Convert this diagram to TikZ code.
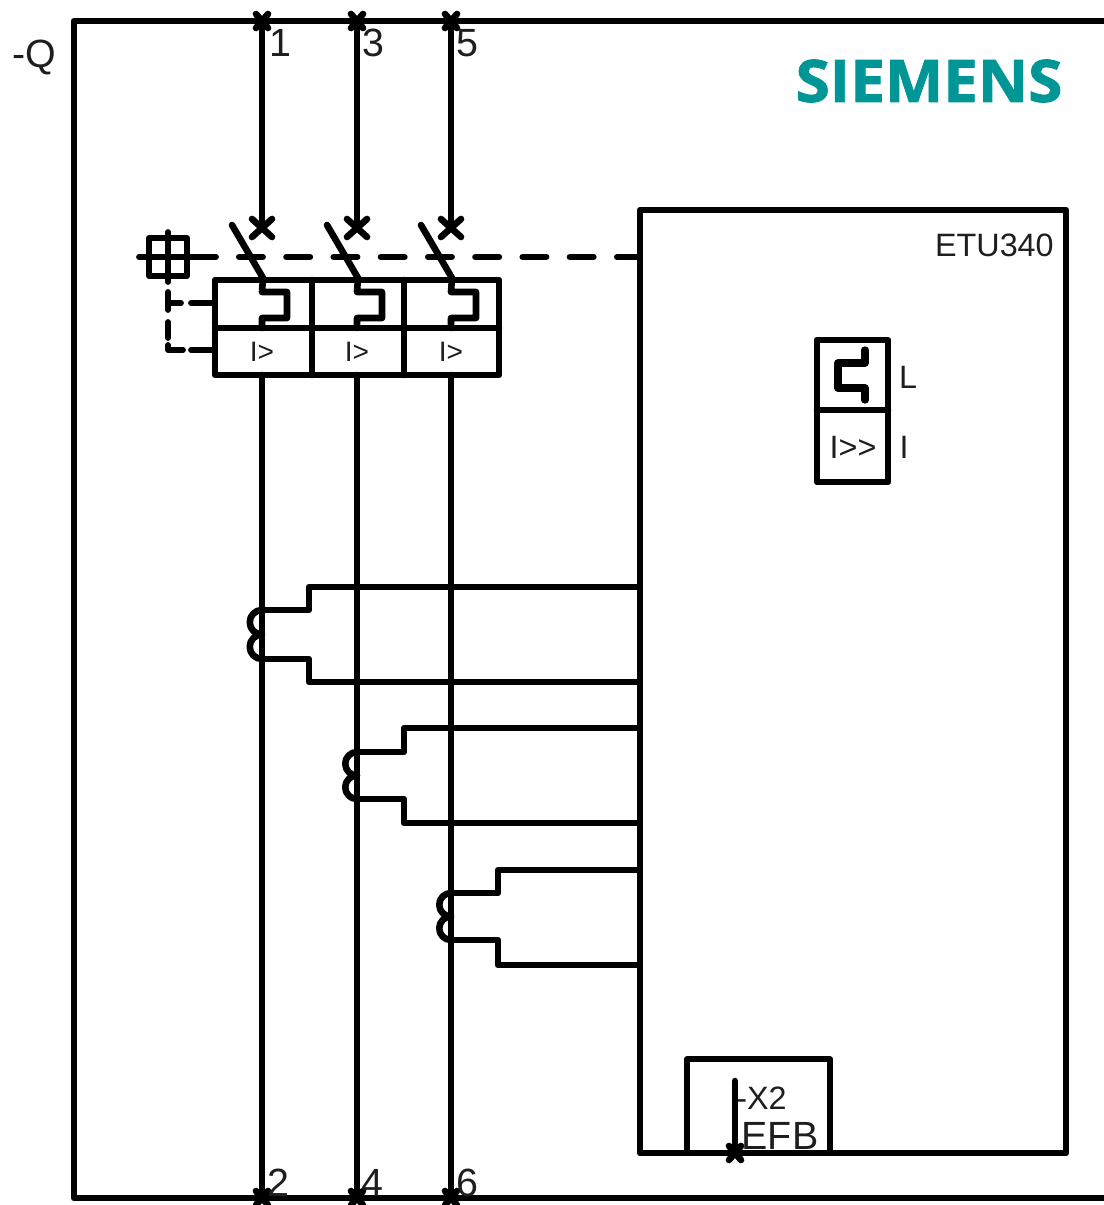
\documentclass[tikz,border=0pt]{standalone}
\usepackage{fontspec}
\setmainfont{Liberation Sans}
\newfontfamily\logofont[BoldFeatures={FakeBold=1.5}]{Open Sans}
\usepackage{xcolor}
\usetikzlibrary{positioning,calc}
\definecolor{logoteal}{RGB}{0,150,150}
\definecolor{labelgray}{RGB}{30,30,30}
\tikzstyle{wire} = [line width=4.7pt,line join=round,line cap=round]
\tikzstyle{thin wire} = [line width=4.1pt,line join=round,line cap=round]
\tikzstyle{mech} = [line width=4.3pt,line cap=round,dash pattern=on 17pt off 16.6pt]
\tikzstyle{lbl} = [inner sep=0pt,text=labelgray,font=\fontsize{28}{30}\selectfont]
\tikzstyle{small lbl} = [inner sep=0pt,text=labelgray,font=\fontsize{23}{25}\selectfont]
\tikzstyle{trip lbl} = [inner sep=0pt,text=labelgray,font=\fontsize{20}{22}\selectfont]
\newcommand{\TERM}[1]{\draw [wire] ($(#1)+(-6,-7)$) -- ($(#1)+(6,7)$) ($(#1)+(6,-7)$) -- ($(#1)+(-6,7)$);}
\newcommand{\CONTACT}[1]{\draw [wire] ($(#1)+(-10,-9)$) -- ($(#1)+(10,9)$) ($(#1)+(10,-9)$) -- ($(#1)+(-10,9)$);}
\begin{document}
\begin{tikzpicture}[x=0.025cm,y=-0.025cm]
\useasboundingbox (0,0) rectangle (1104,1205);
% terminals
\coordinate (t1) at (262,21);
\coordinate (t3) at (357,21);
\coordinate (t5) at (451,21);
\coordinate (t2) at (262,1198);
\coordinate (t4) at (357,1198);
\coordinate (t6) at (451,1198);
\coordinate (c1) at (262,228);
\coordinate (c3) at (357,228);
\coordinate (c5) at (451,228);

% outer frame
\draw [wire] (1110,21) -- (74,21) -- (74,1198) -- (1110,1198);
\node [lbl] (qlabel) at (34,57) {-Q};
\node [inner sep=0pt,text=logoteal,font=\logofont\bfseries\fontsize{41.5}{45}\selectfont,xscale=1.06] (logo) at (929,81) {SIEMENS};

% incoming side
\draw [wire] (t1) -- (c1);
\draw [wire] (t3) -- (c3);
\draw [wire] (t5) -- (c5);
\TERM{t1} \TERM{t3} \TERM{t5}
\CONTACT{c1} \CONTACT{c3} \CONTACT{c5}
\node [lbl] (n1) at (280,43) {1};
\node [lbl] (n3) at (373,43) {3};
\node [lbl] (n5) at (467,43) {5};

% trip unit
\draw [wire] (640,210) rectangle (1066,1153);
\node [small lbl,anchor=east] (etu) at (1054,245) {ETU340};
\coordinate (mechend) at (636,257);

% breaker blades
\draw [wire] (232,225) -- (263,278) -- (262,292) -- (287,292) -- (287,318) -- (262,318) -- (262,328);
\draw [wire] (327,225) -- (358,278) -- (357,292) -- (382,292) -- (382,318) -- (357,318) -- (357,328);
\draw [wire] (421,225) -- (452,278) -- (451,292) -- (476,292) -- (476,318) -- (451,318) -- (451,328);

% release block
\draw [wire] (215,280) rectangle (499,375);
\draw [wire] (215,328) -- (499,328);
\draw [wire] (312,280) -- (312,375);
\draw [wire] (404,280) -- (404,375);
\node [trip lbl] (r1) at (262,352) {I>};
\node [trip lbl] (r3) at (357,352) {I>};
\node [trip lbl] (r5) at (451,352) {I>};

% hand drive and mechanical link
\draw [thin wire] (149,238) rectangle (187,276);
\draw [thin wire] (139,257) -- (216,257);
\draw [thin wire] (168,232) -- (168,282);
\draw [mech] (239,257) -- (mechend);
\draw [thin wire] (168,292) -- (168,310) (168,322) -- (168,338) (168,345) -- (168,350) -- (183,350);
\draw [thin wire] (168,303) -- (181,303);
\draw [thin wire] (191,303) -- (213,303);
\draw [thin wire] (191,350) -- (213,350);

% outgoing side
\draw [wire] (262,375) -- (t2);
\draw [wire] (357,375) -- (t4);
\draw [wire] (451,375) -- (t6);
\TERM{t2} \TERM{t4} \TERM{t6}
\node [lbl] (n2) at (278,1183) {2};
\node [lbl] (n4) at (372,1183) {4};
\node [lbl] (n6) at (467,1183) {6};

% current transformers
\draw [wire] (262,610) arc (-90:-270:12.25) arc (-90:-270:12.25);
\draw [wire] (262,610) -- (309,610) -- (309,587) -- (638,587);
\draw [wire] (262,659) -- (309,659) -- (309,682) -- (638,682);
\draw [wire] (357,752) arc (-90:-270:11.75) arc (-90:-270:11.75);
\draw [wire] (357,752) -- (404,752) -- (404,728) -- (638,728);
\draw [wire] (357,799) -- (404,799) -- (404,823) -- (638,823);
\draw [wire] (451,893) arc (-90:-270:11.75) arc (-90:-270:11.75);
\draw [wire] (451,893) -- (498,893) -- (498,870) -- (638,870);
\draw [wire] (451,940) -- (498,940) -- (498,965) -- (638,965);

% L and I functions
\draw [wire] (817,340) rectangle (888,482);
\draw [wire] (817,410) -- (888,410);
\draw [line width=5.2pt,line join=round,line cap=round] (865,350) -- (865,363) -- (838,363) -- (838,388) -- (865,388) -- (865,400);
\node [small lbl] (lfn) at (908,377) {L};
\node [small lbl] (ifn) at (904,447) {I};
\node [small lbl] (ifnsym) at (853,447) {I>{}>};

% EFB terminal
\coordinate (x2) at (735,1153);
\draw [thin wire] (687,1153) -- (687,1059) -- (830,1059) -- (830,1153);
\draw [wire] (735,1081) -- (x2);
\TERM{x2}
\node [small lbl,anchor=west] (x2label) at (736,1098) {-X2};
\node [inner sep=0pt,text=labelgray,font=\fontsize{28}{30}\selectfont] (efb) at (780,1136) {EFB};
\end{tikzpicture}
\end{document}
